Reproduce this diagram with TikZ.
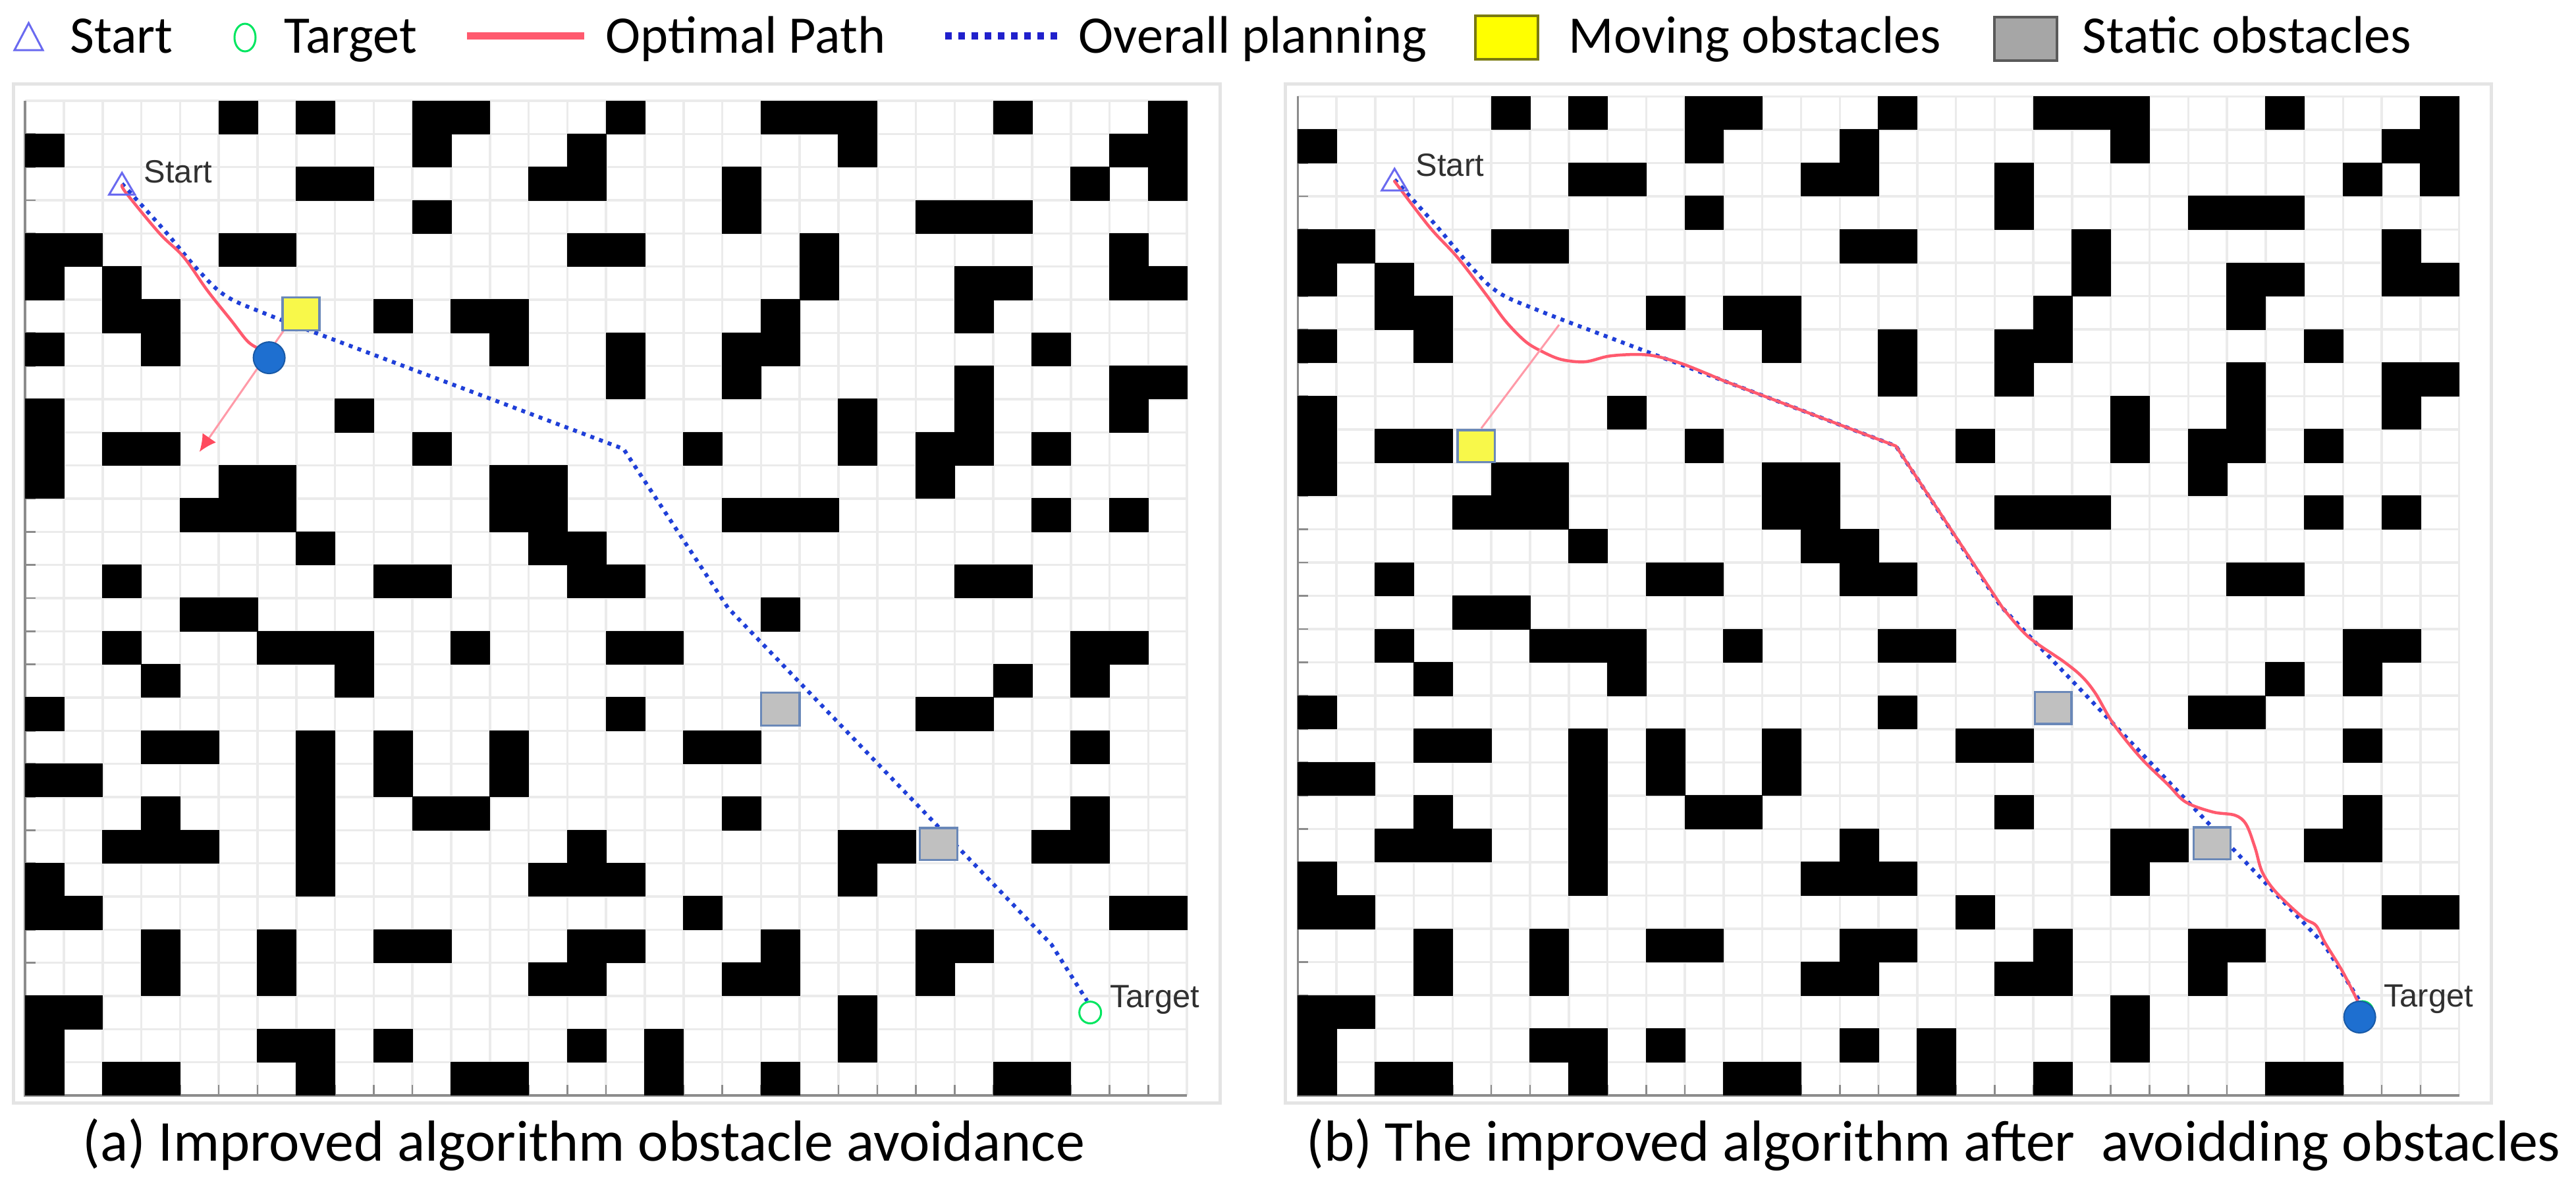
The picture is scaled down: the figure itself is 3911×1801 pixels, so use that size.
\documentclass[tikz,border=0pt]{standalone}
\usepackage{fontspec}
\setmainfont{Carlito}
\newfontfamily\plotfont{Liberation Sans}
\usetikzlibrary{arrows.meta}

\definecolor{gridc}{HTML}{EBEBEB}
\definecolor{axisc}{HTML}{8C8C8C}
\definecolor{framec}{HTML}{E4E4E4}
\definecolor{planblue}{HTML}{1F3FD8}
\definecolor{legblue}{HTML}{2020CC}
\definecolor{optred}{HTML}{FF5A6E}
\definecolor{pinkc}{HTML}{FF9AA8}
\definecolor{arrowred}{HTML}{FF4A5E}
\definecolor{movyel}{HTML}{F8F84A}
\definecolor{statgray}{HTML}{C0C0C0}
\definecolor{markedge}{HTML}{6A88B8}
\definecolor{dotblue}{HTML}{1E6FD0}
\definecolor{startc}{HTML}{6A6AF0}
\definecolor{targc}{HTML}{00E660}
\definecolor{labelc}{HTML}{303030}
\definecolor{legyel}{HTML}{FFFF00}
\definecolor{legyeledge}{HTML}{7A7A10}
\definecolor{leggray}{HTML}{A6A6A6}
\definecolor{leggrayedge}{HTML}{5A5A5A}

\def\obstlist{5/0,7/0,10/0,11/0,15/0,19/0,20/0,21/0,25/0,29/0,%
0/1,10/1,14/1,21/1,28/1,29/1,%
7/2,8/2,13/2,14/2,18/2,27/2,29/2,%
10/3,18/3,23/3,24/3,25/3,%
0/4,1/4,5/4,6/4,14/4,15/4,20/4,28/4,%
0/5,2/5,20/5,24/5,25/5,28/5,29/5,%
2/6,3/6,9/6,11/6,12/6,19/6,24/6,%
0/7,3/7,12/7,15/7,18/7,19/7,26/7,%
15/8,18/8,24/8,28/8,29/8,%
0/9,8/9,21/9,24/9,28/9,%
0/10,2/10,3/10,10/10,17/10,21/10,23/10,24/10,26/10,%
0/11,5/11,6/11,12/11,13/11,23/11,%
4/12,5/12,6/12,12/12,13/12,18/12,19/12,20/12,26/12,28/12,%
7/13,13/13,14/13,%
2/14,9/14,10/14,14/14,15/14,24/14,25/14,%
4/15,5/15,19/15,%
2/16,6/16,7/16,8/16,11/16,15/16,16/16,27/16,28/16,%
3/17,8/17,25/17,27/17,%
0/18,15/18,23/18,24/18,%
3/19,4/19,7/19,9/19,12/19,17/19,18/19,27/19,%
0/20,1/20,7/20,9/20,12/20,%
3/21,7/21,10/21,11/21,18/21,27/21,%
2/22,3/22,4/22,7/22,14/22,21/22,22/22,26/22,27/22,%
0/23,7/23,13/23,14/23,15/23,21/23,%
0/24,1/24,17/24,28/24,29/24,%
3/25,6/25,9/25,10/25,14/25,15/25,19/25,23/25,24/25,%
3/26,6/26,13/26,14/26,18/26,19/26,23/26,%
0/27,1/27,21/27,%
0/28,6/28,7/28,9/28,14/28,16/28,21/28,%
0/29,2/29,3/29,7/29,11/29,12/29,16/29,19/29,25/29,26/29}

\tikzset{
  gridln/.style={draw=gridc, line width=0.35mm},
  tickln/.style={draw=axisc, line width=0.25mm},
  axisln/.style={draw=axisc, line width=0.35mm},
  obst/.style={fill=black},
  planpath/.style={draw=planblue, line width=0.6mm, dash pattern=on 0.6mm off 0.8mm},
  optpath/.style={draw=optred, line width=0.45mm, line join=round, line cap=round},
  pinkln/.style={draw=pinkc, line width=0.3mm},
  movsq/.style={fill=movyel, draw=markedge, line width=0.35mm},
  statsq/.style={fill=statgray, draw=markedge, line width=0.35mm},
  robot/.style={fill=dotblue, draw=dotblue!80!black, line width=0.2mm},
  startmk/.style={draw=startc, line width=0.3mm},
  targmk/.style={draw=targc, line width=0.3mm},
  plotlbl/.style={font=\plotfont\fontsize{13.9pt}{16pt}\selectfont, text=labelc, anchor=base west, inner sep=0pt},
  legtxt/.style={font=\fontsize{22.8pt}{27pt}\selectfont, anchor=base west, inner sep=0pt},
  captxt/.style={font=\fontsize{25pt}{30pt}\selectfont, anchor=base west, inner sep=0pt},
  framebox/.style={draw=framec, line width=0.5mm}
}

\newcommand\drawmapgrid{%
  \foreach \ii in {0,...,30}{\draw[gridln] (\ii,0) -- (\ii,30); \draw[gridln] (0,\ii) -- (30,\ii);}
  \foreach \ii in {1,...,29}{\draw[tickln] (0,\ii) -- ++(1.6mm,0); \draw[tickln] (\ii,30) -- ++(0,1.6mm);}
  \draw[axisln] (0,0) -- (0,30) -- (30,30);
  \foreach \cc/\rr in \obstlist {\path[obst] (\cc-0.01,\rr-0.01) rectangle ++(1.02,1.02);}
}

\begin{document}
\begin{tikzpicture}[x=0.1mm, y=-0.1mm]
\path[use as bounding box, fill=white] (0,0) rectangle (3911,1801);

% ---------- legend ----------
\draw[startmk] (22,76) -- (65,76) -- (43.5,35) -- cycle;
\node[legtxt] (legS) at (106,80) {Start};
\draw[targmk] (372,57) ellipse [x radius=1.6mm, y radius=2.1mm];
\node[legtxt] (legT) at (431,80) {Target};
\draw[optred, line width=1.1mm] (709,54) -- (887,54);
\node[legtxt] (legO) at (919,80) {Optimal Path};
\draw[legblue, line width=1.1mm, dash pattern=on 1mm off 1mm] (1435,54) -- (1612,54);
\node[legtxt] (legP) at (1637,80) {Overall planning};
\draw[fill=legyel, draw=legyeledge, line width=0.45mm] (2240,24) rectangle (2335,90);
\node[legtxt] (legM) at (2381,80) {Moving obstacles};
\draw[fill=leggray, draw=leggrayedge, line width=0.45mm] (3028,26) rectangle (3123,92);
\node[legtxt] (legG) at (3161,80) {Static obstacles};

% ---------- frames ----------
\draw[framebox] (20,127) rectangle (1852,1674);
\draw[framebox] (1951,127) rectangle (3782,1674);

% ---------- left panel ----------
\begin{scope}[shift={(38.2,153)}, x=5.88mm, y=-5.033mm]
  \drawmapgrid
  \coordinate (LS) at (2.5,2.5);
  \coordinate (LT) at (27.5,27.5);
  \coordinate (LR) at (6.3,7.75);
  \draw[planpath] plot[smooth, tension=0.6] coordinates {(2.5,2.5) (3.55,3.85) (4.5,5.15) (5.2,5.9) (6.2,6.42) (7.5,7.0)}
      -- (15.45,10.5) -- (18.15,15.3) -- (26.5,25.45) -- (27.42,27.15);
  \draw[optpath] plot[smooth, tension=0.6] coordinates {(2.5,2.55) (2.62,2.8) (3.47,4.0) (4.09,4.71) (4.71,5.73) (5.33,6.64) (5.74,7.25) (6.05,7.5) (6.3,7.75)};
  \draw[pinkln, -{Latex[length=2.6mm, width=2.5mm, color=arrowred]}] (6.67,6.94) -- (4.5,10.59);
  \path[movsq] (6.65,5.93) rectangle (7.6,6.92);
  \path[statsq] (19,17.85) rectangle (20,18.85);
  \path[statsq] (23.1,21.93) rectangle (24.07,22.9);
  \path[robot] (LR) circle [radius=2.4mm];
  \draw[targmk] (LT) circle [radius=1.65mm];
  \draw[startmk] (LS) ++(-1.95mm,-1.65mm) -- ++(3.9mm,0) -- ++(-1.95mm,3.3mm) -- cycle;
  \node[plotlbl] (LSl) at (3.06,2.47) {Start};
  \node[plotlbl] (LTl) at (28.0,27.34) {Target};
\end{scope}

% ---------- right panel ----------
\begin{scope}[shift={(1970.3,146.3)}, x=5.878mm, y=-5.055mm]
  \drawmapgrid
  \coordinate (RS) at (2.5,2.5);
  \coordinate (RT) at (27.5,27.5);
  \coordinate (RR) at (27.43,27.65);
  \draw[planpath] plot[smooth, tension=0.6] coordinates {(2.5,2.5) (3.55,3.85) (4.5,5.15) (5.2,5.9) (6.2,6.42) (7.5,7.0)}
      -- (15.45,10.5) -- (18.15,15.3) -- (26.5,25.45) -- (27.42,27.15);
  \draw[optpath] plot[smooth, tension=0.55] coordinates {(2.5,2.55) (3.40,3.92) (4.12,4.83) (4.85,5.93) (5.36,6.74) (5.87,7.35) (6.29,7.65) (6.80,7.90) (7.42,7.97) (8.04,7.80) (8.76,7.75) (9.28,7.81) (10.0,8.06) (11.0,8.54)};
  \draw[optpath] (11.0,8.54) -- (15.45,10.5) -- (18.2,15.35);
  \draw[optpath] plot[smooth, tension=0.55] coordinates {(18.2,15.35) (18.86,16.22) (19.79,16.98) (20.26,17.43) (20.61,17.94) (21.07,18.85) (21.77,19.86) (22.47,20.66) (22.93,21.19) (23.63,21.49) (24.21,21.59) (24.5,21.87) (24.73,22.58) (24.91,23.29) (25.26,23.89) (25.95,24.65) (26.3,24.9) (26.53,25.41) (27.0,26.31) (27.43,27.3)};
  \draw[pinkln] (4.74,9.97) -- (6.75,6.86);
  \path[movsq] (4.13,10.02) rectangle (5.09,10.98);
  \path[statsq] (19.04,17.89) rectangle (19.98,18.85);
  \path[statsq] (23.14,21.95) rectangle (24.09,22.91);
  \draw[targmk] (RT) circle [radius=1.65mm];
  \path[robot] (RR) circle [radius=2.4mm];
  \draw[startmk] (RS) ++(-1.95mm,-1.65mm) -- ++(3.9mm,0) -- ++(-1.95mm,3.3mm) -- cycle;
  \node[plotlbl] (RSl) at (3.04,2.40) {Start};
  \node[plotlbl] (RTl) at (28.04,27.35) {Target};
\end{scope}

% ---------- captions ----------
\node[captxt] (capA) at (125,1762) {(a) Improved algorithm obstacle avoidance};
\node[captxt] (capB) at (1983,1762) {(b) The improved algorithm after\ \ avoidding obstacles};
\end{tikzpicture}
\end{document}
